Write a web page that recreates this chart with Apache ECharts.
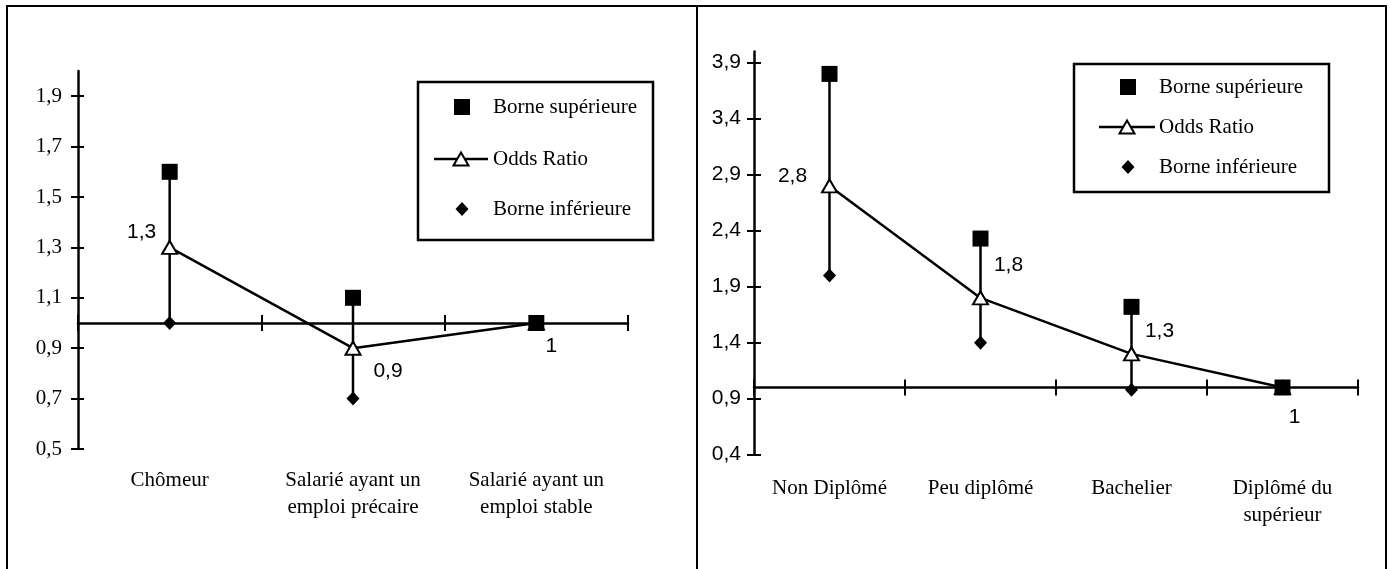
<!DOCTYPE html>
<html>
<head>
<meta charset="utf-8">
<script src="https://cdn.jsdelivr.net/npm/echarts@6/dist/echarts.min.js"></script>
<style>
  html, body { margin: 0; padding: 0; background: #fff; }
  #chart { width: 1391px; height: 569px; }
</style>
</head>
<body>
<div id="chart"></div>
<script>
// ---- Statut d'emploi ----
const statutCategories = ['Chômeur', 'Salarié ayant un\nemploi précaire', 'Salarié ayant un\nemploi stable'];
const statutUpper = [1.6, 1.1, 1.0];
const statutOdds = [1.3, 0.9, 1.0];
const statutLower = [1.0, 0.7, 1.0];
const statutTicks = [0.5, 0.7, 0.9, 1.1, 1.3, 1.5, 1.7, 1.9];

// ---- Diplôme ----
const diplomeCategories = ['Non Diplômé', 'Peu diplômé', 'Bachelier', 'Diplômé du\nsupérieur'];
const diplomeUpper = [3.8, 2.33, 1.72, 1.0];
const diplomeOdds = [2.8, 1.8, 1.3, 1.0];
const diplomeLower = [2.0, 1.4, 0.98, 1.0];
const diplomeTicks = [0.4, 0.9, 1.4, 1.9, 2.4, 2.9, 3.4, 3.9];

// Reference level of the odds ratio (the horizontal axis crosses here)
const REFERENCE = 1;

const seriesNames = ['Borne supérieure', 'Odds Ratio', 'Borne inférieure'];

const SERIF = '"Liberation Serif", "Times New Roman", serif';
const SANS = '"Liberation Sans", Arial, sans-serif';
const BLACK = '#000';
const LW = 2.5;

const fmt = v => String(Math.round(v * 10) / 10).replace('.', ',');

// Layout / style of each panel
const panels = [
  {
    key: 'S', categories: statutCategories, upper: statutUpper, odds: statutOdds, lower: statutLower,
    ticks: statutTicks, min: 0.5, max: 2.0,
    grid: { left: 78, top: 71, width: 550, height: 378 },
    yFont: SERIF, yMargin: 16, tickOut: 7, tickIn: 6, catMargin: 18,
    labelOffsets: [[-28, -15], [35, 23], [15, 23]],
    legend: { x: 418, y: 82, w: 235, h: 158, sym: 462, lineL: 434, lineR: 488, text: 493, rows: [107, 159, 209] }
  },
  {
    key: 'D', categories: diplomeCategories, upper: diplomeUpper, odds: diplomeOdds, lower: diplomeLower,
    ticks: diplomeTicks, min: 0.4, max: 4.0,
    grid: { left: 754, top: 51.5, width: 604, height: 403.2 },
    yFont: SANS, yMargin: 13, tickOut: 7, tickIn: 7, catMargin: 20,
    labelOffsets: [[-37, -10], [28, -33], [28, -23], [12, 30]],
    legend: { x: 1074, y: 64, w: 255, h: 128, sym: 1128, lineL: 1099, lineR: 1155, text: 1159, rows: [87, 127, 167] }
  }
];

const grids = [], xAxes = [], yAxes = [], series = [], graphics = [];

panels.forEach((p, gi) => {
  grids.push(Object.assign({ outerBoundsMode: 'none', containLabel: false }, p.grid));

  // category labels under the plot
  xAxes.push({
    id: p.key + 'lab', gridIndex: gi, type: 'category', data: p.categories, position: 'bottom',
    axisLine: { show: false, onZero: false }, axisTick: { show: false }, splitLine: { show: false },
    axisLabel: { interval: 0, margin: p.catMargin, color: BLACK, fontFamily: SERIF, fontSize: 21, lineHeight: 27 }
  });
  // axis line at the reference level, ticks pointing down
  xAxes.push({
    id: p.key + 'ref', gridIndex: gi, type: 'category', data: p.categories, position: 'bottom', offset: 0,
    axisLine: { show: true, onZero: false, lineStyle: { color: BLACK, width: LW } },
    axisTick: { show: true, inside: false, length: 8, interval: 0, lineStyle: { color: BLACK, width: 2 } },
    axisLabel: { show: false }, splitLine: { show: false }
  });
  // same ticks pointing up
  xAxes.push({
    id: p.key + 'refIn', gridIndex: gi, type: 'category', data: p.categories, position: 'bottom', offset: 0,
    axisLine: { show: false, onZero: false },
    axisTick: { show: true, inside: true, length: 8, interval: 0, lineStyle: { color: BLACK, width: 2 } },
    axisLabel: { show: false }, splitLine: { show: false }
  });

  yAxes.push({
    gridIndex: gi, type: 'value', position: 'left', min: p.min, max: p.max,
    axisLine: { show: true, onZero: false, lineStyle: { color: BLACK, width: LW } },
    axisTick: { show: true, inside: false, length: p.tickOut, customValues: p.ticks, lineStyle: { color: BLACK, width: 2 } },
    axisLabel: { show: true, customValues: p.ticks, formatter: fmt, margin: p.yMargin, color: BLACK, fontFamily: p.yFont, fontSize: 21 },
    splitLine: { show: false }
  });
  yAxes.push({
    gridIndex: gi, type: 'value', position: 'left', min: p.min, max: p.max,
    axisLine: { show: false, onZero: false },
    axisTick: { show: true, inside: true, length: p.tickIn, customValues: p.ticks, lineStyle: { color: BLACK, width: 2 } },
    axisLabel: { show: false }, splitLine: { show: false }
  });

  const xi = gi * 3, yi = gi * 2;

  // confidence interval: vertical segment from lower to upper bound
  series.push({
    type: 'custom', xAxisIndex: xi, yAxisIndex: yi, z: 1, silent: true,
    data: p.categories.map((c, i) => [i, p.lower[i], p.upper[i]]),
    encode: { x: 0, y: [1, 2] },
    renderItem: (params, api) => {
      const a = api.coord([api.value(0), api.value(1)]);
      const b = api.coord([api.value(0), api.value(2)]);
      return { type: 'line', shape: { x1: a[0], y1: a[1], x2: b[0], y2: b[1] }, style: { stroke: BLACK, lineWidth: LW } };
    }
  });
  series.push({
    name: seriesNames[2], type: 'scatter', xAxisIndex: xi, yAxisIndex: yi, z: 2,
    symbol: 'diamond', symbolSize: [13, 14], itemStyle: { color: BLACK, opacity: 1 },
    data: p.lower
  });
  series.push({
    name: seriesNames[1], type: 'line', xAxisIndex: xi, yAxisIndex: yi, z: 3,
    symbol: 'triangle', symbolSize: [15, 13], showAllSymbol: true,
    itemStyle: { color: '#fff', borderColor: BLACK, borderWidth: 2, opacity: 1 },
    lineStyle: { color: BLACK, width: LW },
    label: { show: true, position: 'inside', formatter: d => fmt(d.value), color: BLACK, fontFamily: SANS, fontSize: 21 },
    data: p.odds.map((v, i) => ({ value: v, label: { offset: p.labelOffsets[i] } }))
  });
  series.push({
    name: seriesNames[0], type: 'scatter', xAxisIndex: xi, yAxisIndex: yi, z: 4,
    symbol: 'rect', symbolSize: 16, itemStyle: { color: BLACK, opacity: 1 },
    data: p.upper
  });

  // legend box
  const L = p.legend;
  graphics.push({ type: 'rect', shape: { x: L.x, y: L.y, width: L.w, height: L.h }, style: { fill: '#fff', stroke: BLACK, lineWidth: 2.5 }, z: 10 });
  const r = L.rows;
  graphics.push({ type: 'rect', shape: { x: L.sym - 8, y: r[0] - 8, width: 16, height: 16 }, style: { fill: BLACK }, z: 11 });
  graphics.push({ type: 'line', shape: { x1: L.lineL, y1: r[1], x2: L.lineR, y2: r[1] }, style: { stroke: BLACK, lineWidth: LW }, z: 11 });
  graphics.push({ type: 'polygon', shape: { points: [[L.sym - 1, r[1] - 6.5], [L.sym + 6.5, r[1] + 6.5], [L.sym - 8.5, r[1] + 6.5]] }, style: { fill: '#fff', stroke: BLACK, lineWidth: 2 }, z: 12 });
  graphics.push({ type: 'polygon', shape: { points: [[L.sym, r[2] - 7], [L.sym + 6.5, r[2]], [L.sym, r[2] + 7], [L.sym - 6.5, r[2]]] }, style: { fill: BLACK }, z: 11 });
  seriesNames.forEach((n, i) => {
    graphics.push({ type: 'text', x: L.text, y: r[i], style: { text: n, fill: BLACK, font: '21px ' + SERIF, verticalAlign: 'middle', align: 'left' }, z: 11 });
  });
});

// frame around the two panels
[[7, 6, 1386, 6], [7, 5, 7, 575], [697, 5, 697, 575], [1386, 5, 1386, 575]].forEach(s => {
  graphics.push({ type: 'line', shape: { x1: s[0], y1: s[1], x2: s[2], y2: s[3] }, style: { stroke: BLACK, lineWidth: 2 }, z: 20 });
});

const chart = echarts.init(document.getElementById('chart'), null, { renderer: 'canvas' });
chart.setOption({
  animation: false,
  backgroundColor: '#fff',
  grid: grids,
  xAxis: xAxes,
  yAxis: yAxes,
  series: series,
  graphic: graphics,
  tooltip: { show: false }
});

// move the category axis line onto the reference level of each panel
const moved = [];
panels.forEach((p, gi) => {
  const yRef = chart.convertToPixel({ yAxisIndex: gi * 2 }, REFERENCE);
  const yMin = chart.convertToPixel({ yAxisIndex: gi * 2 }, p.min);
  const off = yRef - yMin;
  moved.push({ id: p.key + 'ref', offset: off }, { id: p.key + 'refIn', offset: off });
});
chart.setOption({ xAxis: moved });
</script>
</body>
</html>
